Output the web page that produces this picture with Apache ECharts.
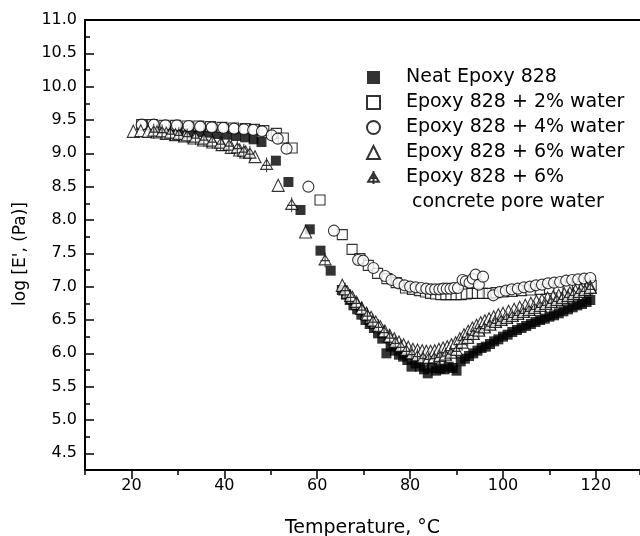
<!DOCTYPE html>
<html>
<head>
<meta charset="utf-8">
<script src="https://cdn.jsdelivr.net/npm/echarts@6/dist/echarts.min.js"></script>
<style>
html,body{margin:0;padding:0;background:#fff;}
#main{width:640px;height:536px;}
</style>
</head>
<body>
<div id="main"></div>
<script>
// series names (legend)
var names = ['Neat Epoxy 828', 'Epoxy 828 + 2% water', 'Epoxy 828 + 4% water', 'Epoxy 828 + 6% water', 'Epoxy 828 + 6%'];
var extraLabel = ' concrete pore water';

// tick labels
var xTicks = [20, 40, 60, 80, 100, 120];
var yTicks = [4.5, 5.0, 5.5, 6.0, 6.5, 7.0, 7.5, 8.0, 8.5, 9.0, 9.5, 10.0, 10.5, 11.0];

// [temperature °C, log E']
var neatEpoxy = [[24.7,9.37],[26.5,9.36],[28.5,9.35],[30.5,9.34],[32.5,9.33],[34.5,9.32],[36.5,9.31],[38.5,9.29],[40.5,9.28],[42.5,9.26],[44.5,9.24],[46.3,9.21],[48.0,9.17],[51.1,8.89],[53.8,8.57],[56.4,8.15],[58.4,7.86],[60.7,7.54],[62.9,7.24],[65.3,6.95],[66.2,6.88],[67.0,6.80],[67.8,6.72],[68.6,6.66],[69.5,6.58],[70.4,6.50],[71.3,6.44],[72.2,6.38],[73.1,6.30],[74.0,6.22],[74.9,6.00],[75.8,6.10],[76.7,6.04],[77.6,5.98],[78.5,5.95],[79.4,5.90],[80.3,5.80],[81.2,5.85],[82.1,5.80],[83.0,5.76],[83.8,5.70],[84.7,5.78],[85.6,5.74],[86.5,5.77],[87.4,5.76],[88.3,5.80],[89.2,5.78],[90.0,5.74],[90.9,5.88],[91.8,5.92],[92.7,5.96],[93.6,6.00],[94.5,6.04],[95.4,6.08],[96.3,6.10],[97.2,6.14],[98.1,6.18],[99.0,6.21],[100.0,6.25],[101.0,6.28],[102.0,6.32],[103.0,6.35],[104.0,6.38],[105.0,6.41],[106.0,6.44],[107.0,6.47],[108.0,6.50],[109.0,6.52],[110.0,6.55],[111.0,6.57],[112.0,6.60],[113.0,6.63],[114.0,6.66],[115.0,6.69],[116.0,6.72],[117.0,6.74],[118.0,6.77],[118.8,6.80]];

var water2 = [[22.2,9.43],[24.5,9.43],[27,9.42],[29.5,9.42],[32,9.41],[34.5,9.41],[37,9.40],[39.5,9.39],[42,9.38],[44.5,9.37],[46.5,9.36],[48.5,9.34],[51.2,9.30],[52.7,9.23],[54.6,9.08],[60.6,8.30],[65.4,7.78],[67.5,7.56],[69.2,7.42],[71,7.32],[73,7.20],[75,7.12],[77,7.06],[79,6.98],[80.5,6.96],[82,6.94],[83.3,6.92],[84.4,6.90],[85.5,6.89],[86.6,6.88],[87.7,6.88],[88.8,6.88],[89.9,6.88],[91,6.88],[92.1,6.89],[93.3,6.90],[94.5,6.90],[95.6,6.90],[97,6.90],[98.5,6.91],[100,6.92],[102,6.93],[104,6.94],[106,6.95],[108,6.96],[110,6.97],[112,6.98],[114,6.99],[116,7.00],[118,7.01],[119,7.02]];

var water4 = [[22.2,9.43],[24.8,9.43],[27.3,9.42],[29.8,9.42],[32.3,9.41],[34.8,9.40],[37.3,9.39],[39.8,9.38],[42.1,9.37],[44.2,9.36],[46.2,9.35],[48.1,9.33],[50.2,9.27],[51.5,9.22],[53.4,9.07],[58.1,8.50],[63.6,7.84],[68.8,7.40],[69.9,7.39],[72.1,7.28],[74.6,7.16],[76.0,7.10],[77.5,7.05],[78.8,7.02],[80.0,7.00],[81.2,6.99],[82.4,6.98],[83.5,6.97],[84.5,6.96],[85.4,6.96],[86.3,6.96],[87.1,6.97],[87.9,6.97],[88.7,6.97],[89.5,6.98],[90.3,6.98],[91.3,7.10],[92.0,7.08],[92.8,7.06],[93.5,7.12],[94.1,7.18],[94.8,7.03],[95.7,7.15],[97.9,6.87],[99.3,6.92],[100.6,6.94],[101.9,6.96],[103.2,6.97],[104.5,6.99],[105.8,7.00],[107.1,7.02],[108.4,7.03],[109.7,7.05],[111.0,7.06],[112.3,7.07],[113.6,7.09],[114.9,7.10],[116.2,7.11],[117.5,7.12],[118.8,7.13]];

var water6 = [[20.4,9.33],[22.0,9.34],[23.6,9.33],[25.5,9.32],[27.5,9.30],[29.5,9.28],[31.5,9.26],[33.5,9.23],[35.5,9.20],[37.5,9.17],[39.5,9.13],[41.5,9.09],[43.3,9.05],[44.6,9.02],[46.6,8.95],[51.6,8.52],[57.5,7.82],[65.4,7.02],[66.5,6.92],[67.6,6.84],[68.6,6.75],[69.6,6.68],[70.6,6.60],[71.6,6.54],[72.6,6.47],[73.6,6.40],[74.6,6.33],[75.6,6.27],[76.6,6.22],[77.6,6.17],[78.6,6.13],[79.6,6.09],[80.6,6.06],[81.6,6.05],[82.6,6.04],[83.5,6.03],[84.4,6.03],[85.3,6.04],[86.2,6.06],[87.1,6.08],[88.0,6.10],[88.9,6.13],[89.8,6.16],[90.7,6.22],[91.6,6.28],[92.5,6.33],[93.4,6.38],[94.3,6.42],[95.2,6.46],[96.1,6.49],[97.0,6.52],[98.0,6.55],[99.0,6.58],[100.0,6.60],[101.2,6.63],[102.4,6.66],[103.6,6.69],[104.8,6.72],[106.0,6.75],[107.2,6.78],[108.4,6.80],[109.6,6.83],[110.8,6.85],[112.0,6.87],[113.2,6.89],[114.4,6.91],[115.6,6.94],[116.8,6.96],[118.0,6.98],[118.8,7.00]];

var poreWater6 = [[24.8,9.33],[26.6,9.32],[28.4,9.30],[30.2,9.28],[32.0,9.26],[33.8,9.24],[35.6,9.21],[37.4,9.18],[39.2,9.15],[41.0,9.12],[42.8,9.08],[44.2,9.03],[45.5,9.00],[49.1,8.83],[54.5,8.23],[61.7,7.40],[66.0,6.95],[67.2,6.85],[68.4,6.76],[69.6,6.66],[70.8,6.57],[72.0,6.48],[73.2,6.40],[74.4,6.32],[75.6,6.24],[76.8,6.16],[78.0,6.10],[79.2,6.04],[80.4,5.99],[81.6,5.96],[82.8,5.93],[84.0,5.92],[85.2,5.93],[86.4,5.95],[87.6,5.97],[88.8,6.00],[90.0,6.04],[91.2,6.15],[92.4,6.22],[93.6,6.28],[94.8,6.33],[96.0,6.38],[97.2,6.42],[98.4,6.46],[99.6,6.49],[100.8,6.52],[102.0,6.55],[103.2,6.58],[104.4,6.61],[105.6,6.64],[106.8,6.67],[108.0,6.70],[109.2,6.73],[110.4,6.76],[111.6,6.79],[112.8,6.82],[114.0,6.85],[115.2,6.88],[116.4,6.91],[117.6,6.94],[118.8,6.97]];

var font = 'DejaVu Sans';
// triangle with a vertical and a horizontal stroke through it
var crossTri = 'path://M10,3L19,18L1,18ZM10,0L10,22M3,12L17,12';

var hollow = {color: '#fff', borderColor: '#000', borderWidth: 1.1};

var myChart = echarts.init(document.getElementById('main'));
var option = {
    backgroundColor: '#fff',
    animation: false,
    grid: {left: 85, top: 20, right: 0, bottom: 66, outerBoundsMode: 'none'},
    legend: {
        orient: 'vertical',
        left: 361, top: 63,
        itemWidth: 13, itemHeight: 13,
        itemGap: 6,
        data: names,
        textStyle: {fontFamily: font, fontSize: 19, color: '#000', lineHeight: 19, padding: [0, 0, 0, 21]}
    },
    graphic: [{
        type: 'text',
        left: 406, top: 193,
        style: {text: extraLabel, font: '19px "DejaVu Sans"', fill: '#000'}
    }],
    xAxis: [{
        type: 'value', min: 10, max: 129.5,
        name: 'Temperature, °C', nameLocation: 'middle', nameGap: 49,
        nameTextStyle: {fontFamily: font, fontSize: 19, color: '#000'},
        axisLine: {lineStyle: {color: '#000', width: 2}},
        axisTick: {customValues: xTicks, length: 9, lineStyle: {color: '#000', width: 1.5}},
        axisLabel: {customValues: xTicks, margin: 8, fontFamily: font, fontSize: 16, color: '#000'},
        splitLine: {show: false}
    }, {
        // minor ticks
        type: 'value', min: 10, max: 129.5, interval: 10, position: 'bottom',
        axisLine: {show: false},
        axisTick: {length: 5, lineStyle: {color: '#000', width: 1.5}},
        axisLabel: {show: false},
        splitLine: {show: false}
    }, {
        // top frame line
        type: 'value', min: 10, max: 129.5, position: 'top',
        axisLine: {lineStyle: {color: '#000', width: 2}},
        axisTick: {show: false},
        axisLabel: {show: false},
        splitLine: {show: false}
    }],
    yAxis: [{
        type: 'value', min: 4.25, max: 11,
        name: "log [E', (Pa)]", nameLocation: 'middle', nameGap: 56,
        nameTextStyle: {fontFamily: font, fontSize: 17, color: '#000', padding: [0, 18, 0, 0]},
        axisLine: {show: true, lineStyle: {color: '#000', width: 2}},
        axisTick: {inside: true, customValues: yTicks, length: 9, lineStyle: {color: '#000', width: 1.5}},
        axisLabel: {customValues: yTicks, margin: 8, fontFamily: font, fontSize: 16, color: '#000',
            formatter: function (v) { return v.toFixed(1); }},
        splitLine: {show: false}
    }, {
        // minor ticks
        type: 'value', min: 4.25, max: 11, interval: 0.25, position: 'left',
        axisLine: {show: false},
        axisTick: {inside: true, length: 5, lineStyle: {color: '#000', width: 1.5}},
        axisLabel: {show: false},
        splitLine: {show: false}
    }],
    series: [
        {name: names[0], type: 'scatter', data: neatEpoxy, symbol: 'rect', symbolSize: 10,
            itemStyle: {color: '#000'}},
        {name: names[1], type: 'scatter', data: water2, symbol: 'rect', symbolSize: 10,
            itemStyle: hollow},
        {name: names[2], type: 'scatter', data: water4, symbol: 'circle', symbolSize: 11,
            itemStyle: hollow},
        {name: names[3], type: 'scatter', data: water6, symbol: 'triangle', symbolSize: 12,
            itemStyle: hollow},
        {name: names[4], type: 'scatter', data: poreWater6, symbol: crossTri, symbolSize: [12, 15],
            itemStyle: hollow}
    ]
};
myChart.setOption(option);
</script>
</body>
</html>
